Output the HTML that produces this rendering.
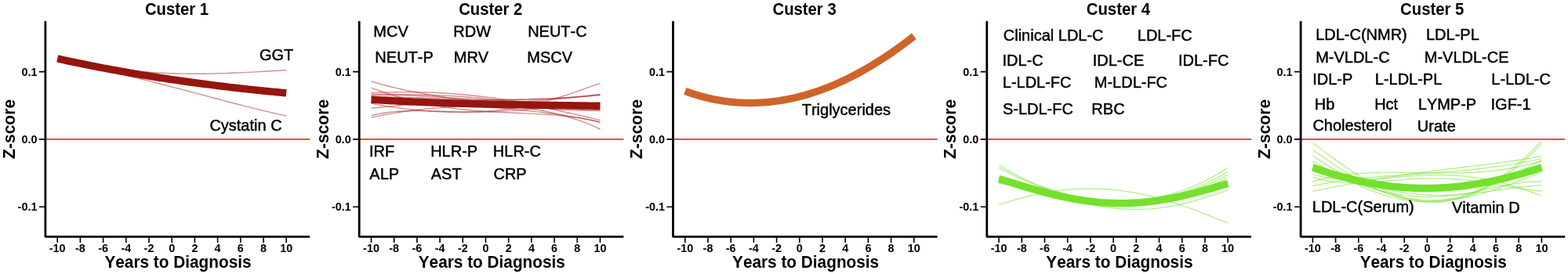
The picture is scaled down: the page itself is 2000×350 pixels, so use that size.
<!DOCTYPE html>
<html lang="en">
<head>
<meta charset="utf-8">
<title>Cluster trajectories</title>
<style>
html,body{margin:0;padding:0;background:#fff;width:2000px;height:350px;overflow:hidden;}
svg{display:block;}
text{font-family:"Liberation Sans",sans-serif;fill:#000;font-kerning:none;}
.t{font-weight:bold;font-size:20.3px;text-anchor:middle;}
.a{font-weight:bold;font-size:20.8px;text-anchor:middle;}
.k{font-weight:bold;font-size:14.4px;}
.l{font-size:20px;stroke:#000;stroke-width:0.45px;stroke-linejoin:round;}
.ax{fill:none;stroke:#000;stroke-width:2.8;stroke-linejoin:bevel;stroke-linecap:butt;}
.tk{fill:none;stroke:#000;stroke-width:1.6;}
.z{stroke:#ff2a1c;stroke-width:1.6;fill:none;}
.th{fill:none;stroke-width:1.4;}
.tc{fill:none;stroke-width:9.4;stroke-linecap:butt;stroke-linejoin:round;}
</style>
</head>
<body>
<svg width="2000" height="350" viewBox="0 0 2000 350" role="img" aria-label="Cluster trajectories">
<rect x="0" y="0" width="2000" height="350" fill="#ffffff"/>
<g transform="translate(0,0)">
<line class="z" x1="58" y1="177.9" x2="395" y2="177.9"/>
<g class="th" stroke="#a82020" stroke-opacity="0.5">
<path d="M73.2 75.5 L78.15 76.5 L83.1 77.48 L88.05 78.44 L93 79.38 L97.95 80.3 L102.89 81.19 L107.84 82.05 L112.79 82.89 L117.74 83.71 L122.69 84.49 L127.64 85.25 L132.59 85.98 L137.54 86.68 L142.49 87.35 L147.44 87.99 L152.39 88.6 L157.34 89.18 L162.28 89.72 L167.23 90.24 L172.18 90.72 L177.13 91.17 L182.08 91.59 L187.03 91.98 L191.98 92.34 L196.93 92.66 L201.88 92.96 L206.83 93.22 L211.78 93.45 L216.73 93.65 L221.67 93.82 L226.62 93.97 L231.57 94.08 L236.52 94.16 L241.47 94.22 L246.42 94.25 L251.37 94.25 L256.32 94.23 L261.27 94.18 L266.22 94.11 L271.17 94.02 L276.12 93.91 L281.06 93.77 L286.01 93.62 L290.96 93.45 L295.91 93.26 L300.86 93.05 L305.81 92.83 L310.76 92.6 L315.71 92.36 L320.66 92.11 L325.61 91.85 L330.56 91.58 L335.51 91.31 L340.45 91.04 L345.4 90.77 L350.35 90.49 L355.3 90.22 L360.25 89.96 L365.2 89.7"/>
<path d="M73.2 77 L78.15 78.01 L83.1 79.02 L88.05 80.04 L93 81.07 L97.95 82.11 L102.89 83.17 L107.84 84.23 L112.79 85.3 L117.74 86.38 L122.69 87.47 L127.64 88.57 L132.59 89.69 L137.54 90.82 L142.49 91.95 L147.44 93.1 L152.39 94.26 L157.34 95.43 L162.28 96.62 L167.23 97.81 L172.18 99.01 L177.13 100.23 L182.08 101.45 L187.03 102.69 L191.98 103.93 L196.93 105.19 L201.88 106.45 L206.83 107.72 L211.78 109 L216.73 110.28 L221.67 111.58 L226.62 112.88 L231.57 114.18 L236.52 115.49 L241.47 116.8 L246.42 118.12 L251.37 119.44 L256.32 120.76 L261.27 122.08 L266.22 123.4 L271.17 124.72 L276.12 126.04 L281.06 127.35 L286.01 128.66 L290.96 129.97 L295.91 131.26 L300.86 132.55 L305.81 133.84 L310.76 135.11 L315.71 136.36 L320.66 137.61 L325.61 138.84 L330.56 140.06 L335.51 141.26 L340.45 142.44 L345.4 143.6 L350.35 144.73 L355.3 145.85 L360.25 146.94 L365.2 148"/>
</g>
<path class="tc" stroke="#95150f" d="M73.2 74.9 L76.9 75.71 L80.59 76.51 L84.29 77.31 L87.98 78.1 L91.68 78.88 L95.38 79.66 L99.07 80.42 L102.77 81.18 L106.47 81.93 L110.16 82.68 L113.86 83.42 L117.55 84.15 L121.25 84.87 L124.95 85.59 L128.64 86.3 L132.34 87 L136.04 87.7 L139.73 88.39 L143.43 89.07 L147.12 89.74 L150.82 90.41 L154.52 91.07 L158.21 91.73 L161.91 92.38 L165.61 93.02 L169.3 93.66 L173 94.28 L176.69 94.91 L180.39 95.52 L184.09 96.13 L187.78 96.73 L191.48 97.33 L195.17 97.92 L198.87 98.5 L202.57 99.08 L206.26 99.65 L209.96 100.22 L213.66 100.77 L217.35 101.33 L221.05 101.87 L224.74 102.41 L228.44 102.95 L232.14 103.48 L235.83 104 L239.53 104.51 L243.23 105.02 L246.92 105.53 L250.62 106.03 L254.31 106.52 L258.01 107.01 L261.71 107.49 L265.4 107.96 L269.1 108.44 L272.79 108.9 L276.49 109.36 L280.19 109.81 L283.88 110.26 L287.58 110.7 L291.28 111.14 L294.97 111.57 L298.67 112 L302.36 112.42 L306.06 112.84 L309.76 113.25 L313.45 113.65 L317.15 114.05 L320.85 114.45 L324.54 114.84 L328.24 115.22 L331.93 115.6 L335.63 115.98 L339.33 116.35 L343.02 116.71 L346.72 117.07 L350.42 117.43 L354.11 117.78 L357.81 118.12 L361.5 118.46 L365.2 118.8"/>
<path class="ax" d="M57.9 27 L57.9 302.4 L395 302.4"/>
<path class="tk" d="M73.2 303.5 L73.2 310  M102.4 303.5 L102.4 310  M131.6 303.5 L131.6 310  M160.8 303.5 L160.8 310  M190 303.5 L190 310  M219.2 303.5 L219.2 310  M248.4 303.5 L248.4 310  M277.6 303.5 L277.6 310  M306.8 303.5 L306.8 310  M336 303.5 L336 310  M365.2 303.5 L365.2 310  M49.8 264.2 L57 264.2 M49.8 177.9 L57 177.9 M49.8 91.6 L57 91.6"/>
<text class="k" text-anchor="middle" transform="translate(73.2,321.7) scale(1,1.04)">-10</text>
<text class="k" text-anchor="middle" transform="translate(102.4,321.7) scale(1,1.04)">-8</text>
<text class="k" text-anchor="middle" transform="translate(131.6,321.7) scale(1,1.04)">-6</text>
<text class="k" text-anchor="middle" transform="translate(160.8,321.7) scale(1,1.04)">-4</text>
<text class="k" text-anchor="middle" transform="translate(190,321.7) scale(1,1.04)">-2</text>
<text class="k" text-anchor="middle" transform="translate(219.2,321.7) scale(1,1.04)">0</text>
<text class="k" text-anchor="middle" transform="translate(248.4,321.7) scale(1,1.04)">2</text>
<text class="k" text-anchor="middle" transform="translate(277.6,321.7) scale(1,1.04)">4</text>
<text class="k" text-anchor="middle" transform="translate(306.8,321.7) scale(1,1.04)">6</text>
<text class="k" text-anchor="middle" transform="translate(336,321.7) scale(1,1.04)">8</text>
<text class="k" text-anchor="middle" transform="translate(365.2,321.7) scale(1,1.04)">10</text>
<text class="k" text-anchor="end" transform="translate(47.4,269.1) scale(1,1.04)">-0.1</text>
<text class="k" text-anchor="end" transform="translate(47.4,182.8) scale(1,1.04)">0.0</text>
<text class="k" text-anchor="end" transform="translate(47.4,96.5) scale(1,1.04)">0.1</text>
<text class="t" transform="translate(225.5,19) scale(1,1.08)">Custer 1</text>
<text class="a" transform="translate(227,341.9) scale(1,1.05)">Years to Diagnosis</text>
<text class="a" style="font-size:21.1px" transform="translate(18.5,164.9) rotate(-90) scale(1,1.05)">Z-score</text>
<text class="l" transform="translate(330.99,76.7) scale(1,1.01)">GGT</text>
<text class="l" transform="translate(267.38,166.7) scale(1,1.01)">Cystatin C</text>
</g>
<g transform="translate(400.3,0)">
<line class="z" x1="58" y1="177.9" x2="395" y2="177.9"/>
<g class="th" stroke="#a82020" stroke-opacity="0.5">
<path d="M73.2 104 L78.15 105.43 L83.1 106.82 L88.05 108.16 L93 109.47 L97.95 110.73 L102.89 111.94 L107.84 113.12 L112.79 114.25 L117.74 115.35 L122.69 116.4 L127.64 117.42 L132.59 118.4 L137.54 119.34 L142.49 120.24 L147.44 121.11 L152.39 121.95 L157.34 122.76 L162.28 123.54 L167.23 124.29 L172.18 125.01 L177.13 125.71 L182.08 126.38 L187.03 127.04 L191.98 127.68 L196.93 128.3 L201.88 128.92 L206.83 129.52 L211.78 130.11 L216.73 130.7 L221.67 131.29 L226.62 131.88 L231.57 132.47 L236.52 133.08 L241.47 133.69 L246.42 134.32 L251.37 134.97 L256.32 135.64 L261.27 136.33 L266.22 137.06 L271.17 137.82 L276.12 138.62 L281.06 139.46 L286.01 140.35 L290.96 141.29 L295.91 142.28 L300.86 143.34 L305.81 144.47 L310.76 145.66 L315.71 146.93 L320.66 148.28 L325.61 149.72 L330.56 151.25 L335.51 152.87 L340.45 154.6 L345.4 156.44 L350.35 158.4 L355.3 160.47 L360.25 162.67 L365.2 165"/>
<path d="M73.2 112.09 L78.15 113.94 L83.1 115.74 L88.05 117.47 L93 119.14 L97.95 120.75 L102.89 122.3 L107.84 123.78 L112.79 125.2 L117.74 126.55 L122.69 127.85 L127.64 129.08 L132.59 130.26 L137.54 131.37 L142.49 132.42 L147.44 133.42 L152.39 134.36 L157.34 135.25 L162.28 136.08 L167.23 136.85 L172.18 137.58 L177.13 138.26 L182.08 138.89 L187.03 139.48 L191.98 140.02 L196.93 140.52 L201.88 140.98 L206.83 141.4 L211.78 141.79 L216.73 142.15 L221.67 142.48 L226.62 142.79 L231.57 143.07 L236.52 143.33 L241.47 143.58 L246.42 143.81 L251.37 144.03 L256.32 144.25 L261.27 144.46 L266.22 144.67 L271.17 144.89 L276.12 145.12 L281.06 145.36 L286.01 145.62 L290.96 145.9 L295.91 146.21 L300.86 146.55 L305.81 146.92 L310.76 147.33 L315.71 147.79 L320.66 148.3 L325.61 148.86 L330.56 149.48 L335.51 150.17 L340.45 150.94 L345.4 151.77 L350.35 152.7 L355.3 153.71 L360.25 154.81 L365.2 156.01"/>
<path d="M73.2 118.61 L78.15 118.42 L83.1 118.25 L88.05 118.09 L93 117.95 L97.95 117.83 L102.89 117.73 L107.84 117.66 L112.79 117.61 L117.74 117.59 L122.69 117.6 L127.64 117.64 L132.59 117.7 L137.54 117.8 L142.49 117.93 L147.44 118.09 L152.39 118.28 L157.34 118.5 L162.28 118.76 L167.23 119.05 L172.18 119.37 L177.13 119.72 L182.08 120.11 L187.03 120.52 L191.98 120.97 L196.93 121.44 L201.88 121.95 L206.83 122.48 L211.78 123.04 L216.73 123.62 L221.67 124.23 L226.62 124.86 L231.57 125.51 L236.52 126.17 L241.47 126.86 L246.42 127.56 L251.37 128.27 L256.32 128.99 L261.27 129.72 L266.22 130.45 L271.17 131.19 L276.12 131.92 L281.06 132.65 L286.01 133.38 L290.96 134.09 L295.91 134.79 L300.86 135.48 L305.81 136.14 L310.76 136.78 L315.71 137.39 L320.66 137.97 L325.61 138.51 L330.56 139.01 L335.51 139.46 L340.45 139.87 L345.4 140.22 L350.35 140.51 L355.3 140.74 L360.25 140.9 L365.2 140.99"/>
<path d="M73.2 120.3 L78.15 120.35 L83.1 120.4 L88.05 120.44 L93 120.48 L97.95 120.52 L102.89 120.57 L107.84 120.61 L112.79 120.66 L117.74 120.72 L122.69 120.79 L127.64 120.87 L132.59 120.97 L137.54 121.08 L142.49 121.2 L147.44 121.34 L152.39 121.5 L157.34 121.68 L162.28 121.89 L167.23 122.11 L172.18 122.36 L177.13 122.63 L182.08 122.93 L187.03 123.26 L191.98 123.61 L196.93 123.99 L201.88 124.4 L206.83 124.84 L211.78 125.31 L216.73 125.81 L221.67 126.33 L226.62 126.89 L231.57 127.48 L236.52 128.1 L241.47 128.75 L246.42 129.44 L251.37 130.15 L256.32 130.89 L261.27 131.67 L266.22 132.47 L271.17 133.3 L276.12 134.16 L281.06 135.05 L286.01 135.97 L290.96 136.91 L295.91 137.88 L300.86 138.88 L305.81 139.9 L310.76 140.94 L315.71 142.01 L320.66 143.1 L325.61 144.21 L330.56 145.33 L335.51 146.47 L340.45 147.63 L345.4 148.8 L350.35 149.99 L355.3 151.19 L360.25 152.39 L365.2 153.6"/>
<path d="M73.2 122 L78.15 121.74 L83.1 121.55 L88.05 121.42 L93 121.35 L97.95 121.34 L102.89 121.38 L107.84 121.47 L112.79 121.6 L117.74 121.76 L122.69 121.96 L127.64 122.19 L132.59 122.43 L137.54 122.7 L142.49 122.99 L147.44 123.29 L152.39 123.6 L157.34 123.91 L162.28 124.23 L167.23 124.55 L172.18 124.87 L177.13 125.18 L182.08 125.48 L187.03 125.78 L191.98 126.06 L196.93 126.32 L201.88 126.57 L206.83 126.81 L211.78 127.02 L216.73 127.21 L221.67 127.37 L226.62 127.52 L231.57 127.64 L236.52 127.73 L241.47 127.79 L246.42 127.83 L251.37 127.84 L256.32 127.82 L261.27 127.78 L266.22 127.7 L271.17 127.6 L276.12 127.47 L281.06 127.31 L286.01 127.12 L290.96 126.91 L295.91 126.67 L300.86 126.41 L305.81 126.12 L310.76 125.82 L315.71 125.49 L320.66 125.14 L325.61 124.78 L330.56 124.4 L335.51 124 L340.45 123.6 L345.4 123.19 L350.35 122.77 L355.3 122.34 L360.25 121.92 L365.2 121.5"/>
<path d="M73.2 138.31 L78.15 137.81 L83.1 137.32 L88.05 136.83 L93 136.34 L97.95 135.86 L102.89 135.39 L107.84 134.93 L112.79 134.47 L117.74 134.03 L122.69 133.6 L127.64 133.18 L132.59 132.77 L137.54 132.38 L142.49 132 L147.44 131.63 L152.39 131.28 L157.34 130.94 L162.28 130.62 L167.23 130.32 L172.18 130.02 L177.13 129.75 L182.08 129.48 L187.03 129.24 L191.98 129 L196.93 128.78 L201.88 128.58 L206.83 128.38 L211.78 128.2 L216.73 128.03 L221.67 127.87 L226.62 127.72 L231.57 127.57 L236.52 127.44 L241.47 127.31 L246.42 127.18 L251.37 127.06 L256.32 126.94 L261.27 126.82 L266.22 126.7 L271.17 126.58 L276.12 126.46 L281.06 126.32 L286.01 126.18 L290.96 126.03 L295.91 125.87 L300.86 125.7 L305.81 125.5 L310.76 125.29 L315.71 125.06 L320.66 124.8 L325.61 124.52 L330.56 124.21 L335.51 123.87 L340.45 123.49 L345.4 123.08 L350.35 122.63 L355.3 122.13 L360.25 121.59 L365.2 120.99"/>
<path d="M73.2 147.72 L78.15 146.48 L83.1 145.42 L88.05 144.51 L93 143.75 L97.95 143.12 L102.89 142.62 L107.84 142.23 L112.79 141.93 L117.74 141.72 L122.69 141.59 L127.64 141.53 L132.59 141.52 L137.54 141.56 L142.49 141.63 L147.44 141.74 L152.39 141.86 L157.34 142 L162.28 142.14 L167.23 142.28 L172.18 142.4 L177.13 142.52 L182.08 142.6 L187.03 142.66 L191.98 142.68 L196.93 142.67 L201.88 142.61 L206.83 142.5 L211.78 142.33 L216.73 142.11 L221.67 141.83 L226.62 141.49 L231.57 141.09 L236.52 140.61 L241.47 140.07 L246.42 139.45 L251.37 138.77 L256.32 138.01 L261.27 137.18 L266.22 136.27 L271.17 135.3 L276.12 134.25 L281.06 133.13 L286.01 131.94 L290.96 130.69 L295.91 129.37 L300.86 128 L305.81 126.56 L310.76 125.07 L315.71 123.52 L320.66 121.93 L325.61 120.3 L330.56 118.63 L335.51 116.93 L340.45 115.2 L345.4 113.45 L350.35 111.68 L355.3 109.91 L360.25 108.14 L365.2 106.38"/>
<path d="M73.2 150.33 L78.15 149.16 L83.1 148.07 L88.05 147.04 L93 146.08 L97.95 145.18 L102.89 144.34 L107.84 143.55 L112.79 142.81 L117.74 142.12 L122.69 141.47 L127.64 140.86 L132.59 140.29 L137.54 139.75 L142.49 139.24 L147.44 138.76 L152.39 138.31 L157.34 137.88 L162.28 137.47 L167.23 137.08 L172.18 136.7 L177.13 136.34 L182.08 135.99 L187.03 135.64 L191.98 135.31 L196.93 134.98 L201.88 134.65 L206.83 134.33 L211.78 134.01 L216.73 133.68 L221.67 133.36 L226.62 133.03 L231.57 132.7 L236.52 132.36 L241.47 132.01 L246.42 131.66 L251.37 131.3 L256.32 130.93 L261.27 130.55 L266.22 130.16 L271.17 129.76 L276.12 129.35 L281.06 128.93 L286.01 128.5 L290.96 128.06 L295.91 127.61 L300.86 127.15 L305.81 126.68 L310.76 126.19 L315.71 125.7 L320.66 125.21 L325.61 124.7 L330.56 124.19 L335.51 123.67 L340.45 123.14 L345.4 122.62 L350.35 122.09 L355.3 121.55 L360.25 121.02 L365.2 120.49"/>
<path d="M73.2 125 L78.15 125.56 L83.1 126.11 L88.05 126.63 L93 127.14 L97.95 127.63 L102.89 128.1 L107.84 128.57 L112.79 129.01 L117.74 129.44 L122.69 129.86 L127.64 130.27 L132.59 130.67 L137.54 131.06 L142.49 131.43 L147.44 131.8 L152.39 132.17 L157.34 132.52 L162.28 132.87 L167.23 133.22 L172.18 133.56 L177.13 133.9 L182.08 134.24 L187.03 134.58 L191.98 134.92 L196.93 135.26 L201.88 135.6 L206.83 135.95 L211.78 136.3 L216.73 136.66 L221.67 137.02 L226.62 137.4 L231.57 137.78 L236.52 138.17 L241.47 138.57 L246.42 138.99 L251.37 139.42 L256.32 139.86 L261.27 140.32 L266.22 140.8 L271.17 141.3 L276.12 141.81 L281.06 142.35 L286.01 142.91 L290.96 143.49 L295.91 144.1 L300.86 144.74 L305.81 145.4 L310.76 146.09 L315.71 146.81 L320.66 147.57 L325.61 148.35 L330.56 149.17 L335.51 150.03 L340.45 150.92 L345.4 151.86 L350.35 152.83 L355.3 153.84 L360.25 154.9 L365.2 156"/>
<path d="M73.2 129 L78.15 129.19 L83.1 129.35 L88.05 129.49 L93 129.61 L97.95 129.72 L102.89 129.81 L107.84 129.9 L112.79 129.98 L117.74 130.05 L122.69 130.13 L127.64 130.2 L132.59 130.27 L137.54 130.35 L142.49 130.44 L147.44 130.53 L152.39 130.63 L157.34 130.73 L162.28 130.85 L167.23 130.98 L172.18 131.13 L177.13 131.28 L182.08 131.45 L187.03 131.64 L191.98 131.84 L196.93 132.06 L201.88 132.29 L206.83 132.53 L211.78 132.79 L216.73 133.07 L221.67 133.36 L226.62 133.66 L231.57 133.97 L236.52 134.3 L241.47 134.64 L246.42 134.99 L251.37 135.34 L256.32 135.71 L261.27 136.08 L266.22 136.45 L271.17 136.83 L276.12 137.2 L281.06 137.58 L286.01 137.95 L290.96 138.31 L295.91 138.67 L300.86 139.01 L305.81 139.34 L310.76 139.65 L315.71 139.94 L320.66 140.21 L325.61 140.45 L330.56 140.67 L335.51 140.84 L340.45 140.99 L345.4 141.09 L350.35 141.14 L355.3 141.15 L360.25 141.1 L365.2 141"/>
<path d="M73.2 132 L78.15 132.97 L83.1 133.9 L88.05 134.79 L93 135.63 L97.95 136.42 L102.89 137.18 L107.84 137.88 L112.79 138.55 L117.74 139.16 L122.69 139.74 L127.64 140.27 L132.59 140.76 L137.54 141.21 L142.49 141.61 L147.44 141.97 L152.39 142.29 L157.34 142.57 L162.28 142.81 L167.23 143.01 L172.18 143.18 L177.13 143.3 L182.08 143.39 L187.03 143.44 L191.98 143.46 L196.93 143.44 L201.88 143.39 L206.83 143.31 L211.78 143.2 L216.73 143.06 L221.67 142.89 L226.62 142.69 L231.57 142.47 L236.52 142.22 L241.47 141.95 L246.42 141.66 L251.37 141.35 L256.32 141.02 L261.27 140.67 L266.22 140.31 L271.17 139.94 L276.12 139.55 L281.06 139.16 L286.01 138.76 L290.96 138.35 L295.91 137.94 L300.86 137.52 L305.81 137.11 L310.76 136.7 L315.71 136.29 L320.66 135.89 L325.61 135.5 L330.56 135.13 L335.51 134.76 L340.45 134.41 L345.4 134.08 L350.35 133.77 L355.3 133.49 L360.25 133.23 L365.2 133"/>
<path d="M73.2 124 L78.15 123.98 L83.1 123.97 L88.05 123.98 L93 124.01 L97.95 124.06 L102.89 124.12 L107.84 124.19 L112.79 124.28 L117.74 124.39 L122.69 124.51 L127.64 124.64 L132.59 124.79 L137.54 124.95 L142.49 125.12 L147.44 125.3 L152.39 125.49 L157.34 125.69 L162.28 125.91 L167.23 126.13 L172.18 126.36 L177.13 126.6 L182.08 126.85 L187.03 127.11 L191.98 127.37 L196.93 127.64 L201.88 127.92 L206.83 128.2 L211.78 128.49 L216.73 128.78 L221.67 129.08 L226.62 129.38 L231.57 129.68 L236.52 129.98 L241.47 130.29 L246.42 130.6 L251.37 130.91 L256.32 131.22 L261.27 131.53 L266.22 131.83 L271.17 132.14 L276.12 132.45 L281.06 132.75 L286.01 133.05 L290.96 133.35 L295.91 133.64 L300.86 133.93 L305.81 134.21 L310.76 134.49 L315.71 134.76 L320.66 135.02 L325.61 135.28 L330.56 135.53 L335.51 135.77 L340.45 136 L345.4 136.22 L350.35 136.43 L355.3 136.63 L360.25 136.82 L365.2 137"/>
</g>
<path class="tc" stroke="#95150f" d="M73.2 127.2 L76.9 127.43 L80.59 127.65 L84.29 127.87 L87.98 128.08 L91.68 128.29 L95.38 128.49 L99.07 128.69 L102.77 128.88 L106.47 129.07 L110.16 129.25 L113.86 129.43 L117.55 129.61 L121.25 129.78 L124.95 129.95 L128.64 130.11 L132.34 130.27 L136.04 130.42 L139.73 130.57 L143.43 130.72 L147.12 130.86 L150.82 131 L154.52 131.14 L158.21 131.27 L161.91 131.4 L165.61 131.52 L169.3 131.64 L173 131.76 L176.69 131.88 L180.39 131.99 L184.09 132.1 L187.78 132.2 L191.48 132.31 L195.17 132.41 L198.87 132.51 L202.57 132.6 L206.26 132.69 L209.96 132.78 L213.66 132.87 L217.35 132.96 L221.05 133.04 L224.74 133.12 L228.44 133.2 L232.14 133.27 L235.83 133.35 L239.53 133.42 L243.23 133.49 L246.92 133.56 L250.62 133.63 L254.31 133.7 L258.01 133.76 L261.71 133.82 L265.4 133.88 L269.1 133.94 L272.79 134 L276.49 134.06 L280.19 134.12 L283.88 134.17 L287.58 134.23 L291.28 134.28 L294.97 134.34 L298.67 134.39 L302.36 134.44 L306.06 134.49 L309.76 134.54 L313.45 134.59 L317.15 134.64 L320.85 134.69 L324.54 134.74 L328.24 134.79 L331.93 134.84 L335.63 134.89 L339.33 134.94 L343.02 134.99 L346.72 135.04 L350.42 135.09 L354.11 135.14 L357.81 135.2 L361.5 135.25 L365.2 135.3"/>
<path class="ax" d="M57.9 27 L57.9 302.4 L395 302.4"/>
<path class="tk" d="M73.2 303.5 L73.2 310  M102.4 303.5 L102.4 310  M131.6 303.5 L131.6 310  M160.8 303.5 L160.8 310  M190 303.5 L190 310  M219.2 303.5 L219.2 310  M248.4 303.5 L248.4 310  M277.6 303.5 L277.6 310  M306.8 303.5 L306.8 310  M336 303.5 L336 310  M365.2 303.5 L365.2 310  M49.8 264.2 L57 264.2 M49.8 177.9 L57 177.9 M49.8 91.6 L57 91.6"/>
<text class="k" text-anchor="middle" transform="translate(73.2,321.7) scale(1,1.04)">-10</text>
<text class="k" text-anchor="middle" transform="translate(102.4,321.7) scale(1,1.04)">-8</text>
<text class="k" text-anchor="middle" transform="translate(131.6,321.7) scale(1,1.04)">-6</text>
<text class="k" text-anchor="middle" transform="translate(160.8,321.7) scale(1,1.04)">-4</text>
<text class="k" text-anchor="middle" transform="translate(190,321.7) scale(1,1.04)">-2</text>
<text class="k" text-anchor="middle" transform="translate(219.2,321.7) scale(1,1.04)">0</text>
<text class="k" text-anchor="middle" transform="translate(248.4,321.7) scale(1,1.04)">2</text>
<text class="k" text-anchor="middle" transform="translate(277.6,321.7) scale(1,1.04)">4</text>
<text class="k" text-anchor="middle" transform="translate(306.8,321.7) scale(1,1.04)">6</text>
<text class="k" text-anchor="middle" transform="translate(336,321.7) scale(1,1.04)">8</text>
<text class="k" text-anchor="middle" transform="translate(365.2,321.7) scale(1,1.04)">10</text>
<text class="k" text-anchor="end" transform="translate(47.4,269.1) scale(1,1.04)">-0.1</text>
<text class="k" text-anchor="end" transform="translate(47.4,182.8) scale(1,1.04)">0.0</text>
<text class="k" text-anchor="end" transform="translate(47.4,96.5) scale(1,1.04)">0.1</text>
<text class="t" transform="translate(225.5,19) scale(1,1.08)">Custer 2</text>
<text class="a" transform="translate(227,341.9) scale(1,1.05)">Years to Diagnosis</text>
<text class="a" style="font-size:21.1px" transform="translate(18.5,164.9) rotate(-90) scale(1,1.05)">Z-score</text>
<text class="l" transform="translate(76.06,46.7) scale(1,1.01)">MCV</text>
<text class="l" transform="translate(178.06,46.7) scale(1,1.01)">RDW</text>
<text class="l" transform="translate(272.86,46.7) scale(1,1.01)">NEUT-C</text>
<text class="l" transform="translate(78.06,79.7) scale(1,1.01)">NEUT-P</text>
<text class="l" transform="translate(178.46,79.7) scale(1,1.01)">MRV</text>
<text class="l" transform="translate(272.06,79.7) scale(1,1.01)">MSCV</text>
<text class="l" transform="translate(70.65,200.3) scale(1,1.01)">IRF</text>
<text class="l" transform="translate(148.86,200.3) scale(1,1.01)">HLR-P</text>
<text class="l" transform="translate(228.56,200.3) scale(1,1.01)">HLR-C</text>
<text class="l" transform="translate(71.06,228.7) scale(1,1.01)">ALP</text>
<text class="l" transform="translate(149.46,228.7) scale(1,1.01)">AST</text>
<text class="l" transform="translate(229.18,228.7) scale(1,1.01)">CRP</text>
</g>
<g transform="translate(800.6,0)">
<line class="z" x1="58" y1="177.9" x2="395" y2="177.9"/>
<path class="tc" stroke="#cf6429" d="M73.2 116.4 L76.9 117.72 L80.59 118.98 L84.29 120.18 L87.98 121.31 L91.68 122.39 L95.38 123.4 L99.07 124.35 L102.77 125.24 L106.47 126.08 L110.16 126.85 L113.86 127.56 L117.55 128.21 L121.25 128.8 L124.95 129.33 L128.64 129.8 L132.34 130.21 L136.04 130.57 L139.73 130.86 L143.43 131.1 L147.12 131.28 L150.82 131.4 L154.52 131.46 L158.21 131.46 L161.91 131.41 L165.61 131.3 L169.3 131.13 L173 130.91 L176.69 130.63 L180.39 130.29 L184.09 129.9 L187.78 129.45 L191.48 128.94 L195.17 128.38 L198.87 127.76 L202.57 127.09 L206.26 126.37 L209.96 125.59 L213.66 124.75 L217.35 123.86 L221.05 122.92 L224.74 121.92 L228.44 120.87 L232.14 119.76 L235.83 118.61 L239.53 117.39 L243.23 116.13 L246.92 114.81 L250.62 113.45 L254.31 112.02 L258.01 110.55 L261.71 109.03 L265.4 107.45 L269.1 105.82 L272.79 104.14 L276.49 102.41 L280.19 100.63 L283.88 98.8 L287.58 96.92 L291.28 94.99 L294.97 93.01 L298.67 90.98 L302.36 88.9 L306.06 86.77 L309.76 84.59 L313.45 82.36 L317.15 80.09 L320.85 77.76 L324.54 75.39 L328.24 72.97 L331.93 70.5 L335.63 67.99 L339.33 65.42 L343.02 62.81 L346.72 60.16 L350.42 57.45 L354.11 54.7 L357.81 51.91 L361.5 49.06 L365.2 46.18"/>
<path class="ax" d="M57.9 27 L57.9 302.4 L395 302.4"/>
<path class="tk" d="M73.2 303.5 L73.2 310  M102.4 303.5 L102.4 310  M131.6 303.5 L131.6 310  M160.8 303.5 L160.8 310  M190 303.5 L190 310  M219.2 303.5 L219.2 310  M248.4 303.5 L248.4 310  M277.6 303.5 L277.6 310  M306.8 303.5 L306.8 310  M336 303.5 L336 310  M365.2 303.5 L365.2 310  M49.8 264.2 L57 264.2 M49.8 177.9 L57 177.9 M49.8 91.6 L57 91.6"/>
<text class="k" text-anchor="middle" transform="translate(73.2,321.7) scale(1,1.04)">-10</text>
<text class="k" text-anchor="middle" transform="translate(102.4,321.7) scale(1,1.04)">-8</text>
<text class="k" text-anchor="middle" transform="translate(131.6,321.7) scale(1,1.04)">-6</text>
<text class="k" text-anchor="middle" transform="translate(160.8,321.7) scale(1,1.04)">-4</text>
<text class="k" text-anchor="middle" transform="translate(190,321.7) scale(1,1.04)">-2</text>
<text class="k" text-anchor="middle" transform="translate(219.2,321.7) scale(1,1.04)">0</text>
<text class="k" text-anchor="middle" transform="translate(248.4,321.7) scale(1,1.04)">2</text>
<text class="k" text-anchor="middle" transform="translate(277.6,321.7) scale(1,1.04)">4</text>
<text class="k" text-anchor="middle" transform="translate(306.8,321.7) scale(1,1.04)">6</text>
<text class="k" text-anchor="middle" transform="translate(336,321.7) scale(1,1.04)">8</text>
<text class="k" text-anchor="middle" transform="translate(365.2,321.7) scale(1,1.04)">10</text>
<text class="k" text-anchor="end" transform="translate(47.4,269.1) scale(1,1.04)">-0.1</text>
<text class="k" text-anchor="end" transform="translate(47.4,182.8) scale(1,1.04)">0.0</text>
<text class="k" text-anchor="end" transform="translate(47.4,96.5) scale(1,1.04)">0.1</text>
<text class="t" transform="translate(225.5,19) scale(1,1.08)">Custer 3</text>
<text class="a" transform="translate(227,341.9) scale(1,1.05)">Years to Diagnosis</text>
<text class="a" style="font-size:21.1px" transform="translate(18.5,164.9) rotate(-90) scale(1,1.05)">Z-score</text>
<text class="l" transform="translate(222.15,147.4) scale(1,1.01)">Triglycerides</text>
</g>
<g transform="translate(1200.9,0)">
<line class="z" x1="58" y1="177.9" x2="395" y2="177.9"/>
<g class="th" stroke="#7de238" stroke-opacity="0.55">
<path d="M73.2 210.9 L78.15 213.94 L83.1 216.86 L88.05 219.66 L93 222.34 L97.95 224.91 L102.89 227.36 L107.84 229.7 L112.79 231.94 L117.74 234.07 L122.69 236.09 L127.64 238.02 L132.59 239.84 L137.54 241.56 L142.49 243.19 L147.44 244.71 L152.39 246.15 L157.34 247.49 L162.28 248.73 L167.23 249.88 L172.18 250.94 L177.13 251.91 L182.08 252.79 L187.03 253.58 L191.98 254.28 L196.93 254.88 L201.88 255.4 L206.83 255.82 L211.78 256.16 L216.73 256.4 L221.67 256.55 L226.62 256.61 L231.57 256.58 L236.52 256.45 L241.47 256.22 L246.42 255.9 L251.37 255.48 L256.32 254.96 L261.27 254.34 L266.22 253.62 L271.17 252.79 L276.12 251.86 L281.06 250.82 L286.01 249.66 L290.96 248.4 L295.91 247.02 L300.86 245.52 L305.81 243.91 L310.76 242.17 L315.71 240.3 L320.66 238.3 L325.61 236.18 L330.56 233.91 L335.51 231.51 L340.45 228.97 L345.4 226.28 L350.35 223.44 L355.3 220.45 L360.25 217.3 L365.2 213.99"/>
<path d="M73.2 214.3 L78.15 216.98 L83.1 219.57 L88.05 222.07 L93 224.49 L97.95 226.82 L102.89 229.07 L107.84 231.23 L112.79 233.31 L117.74 235.3 L122.69 237.21 L127.64 239.03 L132.59 240.77 L137.54 242.43 L142.49 244 L147.44 245.49 L152.39 246.89 L157.34 248.21 L162.28 249.44 L167.23 250.59 L172.18 251.66 L177.13 252.64 L182.08 253.54 L187.03 254.35 L191.98 255.07 L196.93 255.71 L201.88 256.26 L206.83 256.72 L211.78 257.09 L216.73 257.38 L221.67 257.57 L226.62 257.68 L231.57 257.69 L236.52 257.61 L241.47 257.44 L246.42 257.18 L251.37 256.82 L256.32 256.36 L261.27 255.81 L266.22 255.16 L271.17 254.41 L276.12 253.56 L281.06 252.61 L286.01 251.56 L290.96 250.4 L295.91 249.14 L300.86 247.77 L305.81 246.29 L310.76 244.7 L315.71 243 L320.66 241.19 L325.61 239.26 L330.56 237.21 L335.51 235.05 L340.45 232.77 L345.4 230.37 L350.35 227.84 L355.3 225.19 L360.25 222.4 L365.2 219.49"/>
<path d="M73.2 226 L78.15 227.75 L83.1 229.47 L88.05 231.15 L93 232.8 L97.95 234.42 L102.89 236 L107.84 237.53 L112.79 239.03 L117.74 240.48 L122.69 241.89 L127.64 243.25 L132.59 244.57 L137.54 245.84 L142.49 247.05 L147.44 248.21 L152.39 249.32 L157.34 250.38 L162.28 251.37 L167.23 252.31 L172.18 253.19 L177.13 254 L182.08 254.75 L187.03 255.44 L191.98 256.05 L196.93 256.6 L201.88 257.08 L206.83 257.49 L211.78 257.82 L216.73 258.08 L221.67 258.26 L226.62 258.37 L231.57 258.39 L236.52 258.33 L241.47 258.19 L246.42 257.97 L251.37 257.66 L256.32 257.26 L261.27 256.77 L266.22 256.19 L271.17 255.51 L276.12 254.75 L281.06 253.88 L286.01 252.92 L290.96 251.86 L295.91 250.7 L300.86 249.44 L305.81 248.07 L310.76 246.6 L315.71 245.02 L320.66 243.33 L325.61 241.54 L330.56 239.63 L335.51 237.6 L340.45 235.47 L345.4 233.21 L350.35 230.84 L355.3 228.35 L360.25 225.73 L365.2 223"/>
<path d="M73.2 229 L78.15 230.75 L83.1 232.45 L88.05 234.11 L93 235.72 L97.95 237.28 L102.89 238.8 L107.84 240.26 L112.79 241.68 L117.74 243.05 L122.69 244.37 L127.64 245.63 L132.59 246.85 L137.54 248.02 L142.49 249.13 L147.44 250.19 L152.39 251.2 L157.34 252.15 L162.28 253.04 L167.23 253.88 L172.18 254.67 L177.13 255.39 L182.08 256.06 L187.03 256.66 L191.98 257.21 L196.93 257.69 L201.88 258.11 L206.83 258.46 L211.78 258.75 L216.73 258.97 L221.67 259.13 L226.62 259.21 L231.57 259.22 L236.52 259.16 L241.47 259.03 L246.42 258.82 L251.37 258.53 L256.32 258.16 L261.27 257.72 L266.22 257.19 L271.17 256.58 L276.12 255.88 L281.06 255.1 L286.01 254.22 L290.96 253.26 L295.91 252.2 L300.86 251.05 L305.81 249.8 L310.76 248.45 L315.71 247 L320.66 245.45 L325.61 243.8 L330.56 242.03 L335.51 240.16 L340.45 238.18 L345.4 236.08 L350.35 233.86 L355.3 231.53 L360.25 229.08 L365.2 226.5"/>
<path d="M73.2 234.3 L78.15 234.72 L83.1 235.28 L88.05 235.98 L93 236.79 L97.95 237.72 L102.89 238.73 L107.84 239.83 L112.79 241 L117.74 242.23 L122.69 243.51 L127.64 244.83 L132.59 246.18 L137.54 247.54 L142.49 248.92 L147.44 250.3 L152.39 251.66 L157.34 253.01 L162.28 254.34 L167.23 255.64 L172.18 256.9 L177.13 258.11 L182.08 259.27 L187.03 260.37 L191.98 261.41 L196.93 262.38 L201.88 263.28 L206.83 264.11 L211.78 264.85 L216.73 265.5 L221.67 266.07 L226.62 266.55 L231.57 266.93 L236.52 267.22 L241.47 267.41 L246.42 267.5 L251.37 267.49 L256.32 267.37 L261.27 267.16 L266.22 266.85 L271.17 266.44 L276.12 265.92 L281.06 265.31 L286.01 264.6 L290.96 263.8 L295.91 262.91 L300.86 261.92 L305.81 260.85 L310.76 259.7 L315.71 258.46 L320.66 257.15 L325.61 255.77 L330.56 254.33 L335.51 252.83 L340.45 251.27 L345.4 249.66 L350.35 248.01 L355.3 246.33 L360.25 244.62 L365.2 242.89"/>
<path d="M73.2 261.43 L78.15 259.85 L83.1 258.31 L88.05 256.82 L93 255.39 L97.95 254.02 L102.89 252.7 L107.84 251.44 L112.79 250.24 L117.74 249.11 L122.69 248.05 L127.64 247.05 L132.59 246.13 L137.54 245.27 L142.49 244.49 L147.44 243.79 L152.39 243.15 L157.34 242.6 L162.28 242.13 L167.23 241.73 L172.18 241.41 L177.13 241.17 L182.08 241.01 L187.03 240.94 L191.98 240.94 L196.93 241.03 L201.88 241.19 L206.83 241.44 L211.78 241.77 L216.73 242.18 L221.67 242.66 L226.62 243.23 L231.57 243.88 L236.52 244.6 L241.47 245.4 L246.42 246.28 L251.37 247.23 L256.32 248.25 L261.27 249.35 L266.22 250.51 L271.17 251.74 L276.12 253.04 L281.06 254.41 L286.01 255.83 L290.96 257.32 L295.91 258.87 L300.86 260.47 L305.81 262.12 L310.76 263.82 L315.71 265.57 L320.66 267.37 L325.61 269.21 L330.56 271.08 L335.51 272.99 L340.45 274.94 L345.4 276.91 L350.35 278.9 L355.3 280.92 L360.25 282.95 L365.2 284.99"/>
<path d="M73.2 227 L78.15 228.72 L83.1 230.41 L88.05 232.09 L93 233.74 L97.95 235.36 L102.89 236.95 L107.84 238.51 L112.79 240.03 L117.74 241.51 L122.69 242.96 L127.64 244.36 L132.59 245.71 L137.54 247.02 L142.49 248.28 L147.44 249.48 L152.39 250.64 L157.34 251.73 L162.28 252.77 L167.23 253.75 L172.18 254.67 L177.13 255.53 L182.08 256.32 L187.03 257.04 L191.98 257.7 L196.93 258.29 L201.88 258.81 L206.83 259.26 L211.78 259.63 L216.73 259.93 L221.67 260.16 L226.62 260.31 L231.57 260.39 L236.52 260.38 L241.47 260.3 L246.42 260.14 L251.37 259.9 L256.32 259.58 L261.27 259.18 L266.22 258.7 L271.17 258.14 L276.12 257.5 L281.06 256.77 L286.01 255.96 L290.96 255.07 L295.91 254.1 L300.86 253.04 L305.81 251.9 L310.76 250.69 L315.71 249.39 L320.66 248 L325.61 246.54 L330.56 245 L335.51 243.37 L340.45 241.67 L345.4 239.89 L350.35 238.03 L355.3 236.09 L360.25 234.08 L365.2 231.99"/>
<path d="M73.2 230 L78.15 231.56 L83.1 233.11 L88.05 234.63 L93 236.14 L97.95 237.62 L102.89 239.06 L107.84 240.48 L112.79 241.86 L117.74 243.21 L122.69 244.51 L127.64 245.77 L132.59 246.98 L137.54 248.15 L142.49 249.26 L147.44 250.32 L152.39 251.33 L157.34 252.28 L162.28 253.17 L167.23 254.01 L172.18 254.78 L177.13 255.49 L182.08 256.13 L187.03 256.72 L191.98 257.23 L196.93 257.68 L201.88 258.06 L206.83 258.38 L211.78 258.62 L216.73 258.8 L221.67 258.91 L226.62 258.95 L231.57 258.92 L236.52 258.82 L241.47 258.65 L246.42 258.42 L251.37 258.12 L256.32 257.75 L261.27 257.32 L266.22 256.83 L271.17 256.27 L276.12 255.64 L281.06 254.96 L286.01 254.22 L290.96 253.42 L295.91 252.56 L300.86 251.65 L305.81 250.69 L310.76 249.68 L315.71 248.62 L320.66 247.51 L325.61 246.37 L330.56 245.18 L335.51 243.95 L340.45 242.69 L345.4 241.4 L350.35 240.08 L355.3 238.74 L360.25 237.38 L365.2 235.99"/>
<path d="M73.2 227.5 L78.15 228.88 L83.1 230.29 L88.05 231.74 L93 233.21 L97.95 234.69 L102.89 236.19 L107.84 237.68 L112.79 239.17 L117.74 240.65 L122.69 242.11 L127.64 243.54 L132.59 244.95 L137.54 246.32 L142.49 247.64 L147.44 248.92 L152.39 250.15 L157.34 251.32 L162.28 252.44 L167.23 253.49 L172.18 254.47 L177.13 255.38 L182.08 256.22 L187.03 256.98 L191.98 257.66 L196.93 258.26 L201.88 258.78 L206.83 259.22 L211.78 259.57 L216.73 259.83 L221.67 260 L226.62 260.08 L231.57 260.08 L236.52 259.99 L241.47 259.8 L246.42 259.53 L251.37 259.18 L256.32 258.73 L261.27 258.21 L266.22 257.6 L271.17 256.91 L276.12 256.13 L281.06 255.29 L286.01 254.37 L290.96 253.38 L295.91 252.32 L300.86 251.2 L305.81 250.02 L310.76 248.78 L315.71 247.49 L320.66 246.16 L325.61 244.78 L330.56 243.37 L335.51 241.93 L340.45 240.47 L345.4 238.98 L350.35 237.49 L355.3 235.98 L360.25 234.48 L365.2 232.99"/>
</g>
<path class="tc" stroke="#74e12c" d="M73.2 228.5 L76.9 229.62 L80.59 230.74 L84.29 231.87 L87.98 232.99 L91.68 234.12 L95.38 235.24 L99.07 236.36 L102.77 237.47 L106.47 238.58 L110.16 239.67 L113.86 240.75 L117.55 241.81 L121.25 242.85 L124.95 243.88 L128.64 244.89 L132.34 245.87 L136.04 246.83 L139.73 247.76 L143.43 248.67 L147.12 249.55 L150.82 250.4 L154.52 251.22 L158.21 252.01 L161.91 252.76 L165.61 253.48 L169.3 254.16 L173 254.81 L176.69 255.42 L180.39 255.99 L184.09 256.53 L187.78 257.02 L191.48 257.47 L195.17 257.88 L198.87 258.25 L202.57 258.58 L206.26 258.87 L209.96 259.11 L213.66 259.31 L217.35 259.46 L221.05 259.57 L224.74 259.64 L228.44 259.67 L232.14 259.64 L235.83 259.58 L239.53 259.47 L243.23 259.32 L246.92 259.12 L250.62 258.89 L254.31 258.6 L258.01 258.28 L261.71 257.91 L265.4 257.51 L269.1 257.06 L272.79 256.57 L276.49 256.04 L280.19 255.47 L283.88 254.87 L287.58 254.23 L291.28 253.55 L294.97 252.84 L298.67 252.09 L302.36 251.31 L306.06 250.5 L309.76 249.65 L313.45 248.78 L317.15 247.88 L320.85 246.96 L324.54 246.01 L328.24 245.03 L331.93 244.04 L335.63 243.02 L339.33 241.99 L343.02 240.94 L346.72 239.87 L350.42 238.79 L354.11 237.7 L357.81 236.61 L361.5 235.5 L365.2 234.39"/>
<path class="ax" d="M57.9 27 L57.9 302.4 L395 302.4"/>
<path class="tk" d="M73.2 303.5 L73.2 310  M102.4 303.5 L102.4 310  M131.6 303.5 L131.6 310  M160.8 303.5 L160.8 310  M190 303.5 L190 310  M219.2 303.5 L219.2 310  M248.4 303.5 L248.4 310  M277.6 303.5 L277.6 310  M306.8 303.5 L306.8 310  M336 303.5 L336 310  M365.2 303.5 L365.2 310  M49.8 264.2 L57 264.2 M49.8 177.9 L57 177.9 M49.8 91.6 L57 91.6"/>
<text class="k" text-anchor="middle" transform="translate(73.2,321.7) scale(1,1.04)">-10</text>
<text class="k" text-anchor="middle" transform="translate(102.4,321.7) scale(1,1.04)">-8</text>
<text class="k" text-anchor="middle" transform="translate(131.6,321.7) scale(1,1.04)">-6</text>
<text class="k" text-anchor="middle" transform="translate(160.8,321.7) scale(1,1.04)">-4</text>
<text class="k" text-anchor="middle" transform="translate(190,321.7) scale(1,1.04)">-2</text>
<text class="k" text-anchor="middle" transform="translate(219.2,321.7) scale(1,1.04)">0</text>
<text class="k" text-anchor="middle" transform="translate(248.4,321.7) scale(1,1.04)">2</text>
<text class="k" text-anchor="middle" transform="translate(277.6,321.7) scale(1,1.04)">4</text>
<text class="k" text-anchor="middle" transform="translate(306.8,321.7) scale(1,1.04)">6</text>
<text class="k" text-anchor="middle" transform="translate(336,321.7) scale(1,1.04)">8</text>
<text class="k" text-anchor="middle" transform="translate(365.2,321.7) scale(1,1.04)">10</text>
<text class="k" text-anchor="end" transform="translate(47.4,269.1) scale(1,1.04)">-0.1</text>
<text class="k" text-anchor="end" transform="translate(47.4,182.8) scale(1,1.04)">0.0</text>
<text class="k" text-anchor="end" transform="translate(47.4,96.5) scale(1,1.04)">0.1</text>
<text class="t" transform="translate(225.5,19) scale(1,1.08)">Custer 4</text>
<text class="a" transform="translate(227,341.9) scale(1,1.05)">Years to Diagnosis</text>
<text class="a" style="font-size:21.1px" transform="translate(18.5,164.9) rotate(-90) scale(1,1.05)">Z-score</text>
<text class="l" transform="translate(78.88,52.1) scale(1,1.01)">Clinical LDL-C</text>
<text class="l" transform="translate(249.86,52.1) scale(1,1.01)">LDL-FC</text>
<text class="l" transform="translate(77.65,84) scale(1,1.01)">IDL-C</text>
<text class="l" transform="translate(192.85,84) scale(1,1.01)">IDL-CE</text>
<text class="l" transform="translate(302.05,84) scale(1,1.01)">IDL-FC</text>
<text class="l" transform="translate(77.86,112.3) scale(1,1.01)">L-LDL-FC</text>
<text class="l" transform="translate(194.86,112.3) scale(1,1.01)">M-LDL-FC</text>
<text class="l" transform="translate(77.99,146.1) scale(1,1.01)">S-LDL-FC</text>
<text class="l" transform="translate(191.46,146.1) scale(1,1.01)">RBC</text>
</g>
<g transform="translate(1601.2,0)">
<line class="z" x1="58" y1="177.9" x2="395" y2="177.9"/>
<g class="th" stroke="#7de238" stroke-opacity="0.55">
<path d="M73.2 182.76 L78.15 186.4 L83.1 190.05 L88.05 193.7 L93 197.34 L97.95 200.97 L102.89 204.56 L107.84 208.1 L112.79 211.6 L117.74 215.03 L122.69 218.38 L127.64 221.65 L132.59 224.82 L137.54 227.9 L142.49 230.86 L147.44 233.7 L152.39 236.41 L157.34 238.99 L162.28 241.43 L167.23 243.71 L172.18 245.84 L177.13 247.81 L182.08 249.62 L187.03 251.25 L191.98 252.7 L196.93 253.97 L201.88 255.05 L206.83 255.94 L211.78 256.64 L216.73 257.15 L221.67 257.45 L226.62 257.55 L231.57 257.45 L236.52 257.14 L241.47 256.63 L246.42 255.9 L251.37 254.97 L256.32 253.83 L261.27 252.48 L266.22 250.93 L271.17 249.16 L276.12 247.2 L281.06 245.02 L286.01 242.65 L290.96 240.07 L295.91 237.3 L300.86 234.34 L305.81 231.19 L310.76 227.84 L315.71 224.32 L320.66 220.62 L325.61 216.75 L330.56 212.71 L335.51 208.51 L340.45 204.15 L345.4 199.65 L350.35 195 L355.3 190.21 L360.25 185.3 L365.2 180.27"/>
<path d="M73.2 191.5 L78.15 194.97 L83.1 198.43 L88.05 201.85 L93 205.24 L97.95 208.58 L102.89 211.87 L107.84 215.09 L112.79 218.25 L117.74 221.34 L122.69 224.34 L127.64 227.25 L132.59 230.07 L137.54 232.79 L142.49 235.4 L147.44 237.89 L152.39 240.27 L157.34 242.52 L162.28 244.64 L167.23 246.63 L172.18 248.47 L177.13 250.18 L182.08 251.73 L187.03 253.13 L191.98 254.37 L196.93 255.46 L201.88 256.38 L206.83 257.13 L211.78 257.71 L216.73 258.11 L221.67 258.34 L226.62 258.39 L231.57 258.26 L236.52 257.95 L241.47 257.45 L246.42 256.77 L251.37 255.89 L256.32 254.83 L261.27 253.57 L266.22 252.13 L271.17 250.49 L276.12 248.65 L281.06 246.63 L286.01 244.41 L290.96 242 L295.91 239.4 L300.86 236.6 L305.81 233.62 L310.76 230.44 L315.71 227.08 L320.66 223.53 L325.61 219.79 L330.56 215.87 L335.51 211.77 L340.45 207.49 L345.4 203.03 L350.35 198.39 L355.3 193.59 L360.25 188.62 L365.2 183.48"/>
<path d="M73.2 244.21 L78.15 243.25 L83.1 242.29 L88.05 241.33 L93 240.37 L97.95 239.42 L102.89 238.47 L107.84 237.53 L112.79 236.59 L117.74 235.66 L122.69 234.74 L127.64 233.84 L132.59 232.94 L137.54 232.05 L142.49 231.18 L147.44 230.31 L152.39 229.47 L157.34 228.63 L162.28 227.81 L167.23 227.01 L172.18 226.22 L177.13 225.44 L182.08 224.68 L187.03 223.93 L191.98 223.2 L196.93 222.48 L201.88 221.77 L206.83 221.08 L211.78 220.4 L216.73 219.74 L221.67 219.08 L226.62 218.44 L231.57 217.8 L236.52 217.18 L241.47 216.56 L246.42 215.96 L251.37 215.35 L256.32 214.76 L261.27 214.16 L266.22 213.57 L271.17 212.98 L276.12 212.38 L281.06 211.79 L286.01 211.19 L290.96 210.59 L295.91 209.97 L300.86 209.35 L305.81 208.71 L310.76 208.06 L315.71 207.4 L320.66 206.71 L325.61 206.01 L330.56 205.28 L335.51 204.52 L340.45 203.74 L345.4 202.92 L350.35 202.08 L355.3 201.19 L360.25 200.26 L365.2 199.29"/>
<path d="M73.2 237.62 L78.15 236.5 L83.1 235.45 L88.05 234.46 L93 233.53 L97.95 232.67 L102.89 231.86 L107.84 231.1 L112.79 230.39 L117.74 229.73 L122.69 229.11 L127.64 228.53 L132.59 227.98 L137.54 227.47 L142.49 226.99 L147.44 226.53 L152.39 226.1 L157.34 225.7 L162.28 225.31 L167.23 224.94 L172.18 224.58 L177.13 224.23 L182.08 223.89 L187.03 223.56 L191.98 223.24 L196.93 222.92 L201.88 222.6 L206.83 222.27 L211.78 221.95 L216.73 221.61 L221.67 221.28 L226.62 220.93 L231.57 220.57 L236.52 220.2 L241.47 219.82 L246.42 219.42 L251.37 219.01 L256.32 218.58 L261.27 218.12 L266.22 217.65 L271.17 217.16 L276.12 216.65 L281.06 216.11 L286.01 215.55 L290.96 214.97 L295.91 214.36 L300.86 213.72 L305.81 213.06 L310.76 212.37 L315.71 211.65 L320.66 210.9 L325.61 210.12 L330.56 209.32 L335.51 208.49 L340.45 207.63 L345.4 206.74 L350.35 205.82 L355.3 204.87 L360.25 203.89 L365.2 202.89"/>
<path d="M73.2 232.02 L78.15 230.6 L83.1 229.3 L88.05 228.11 L93 227.03 L97.95 226.05 L102.89 225.17 L107.84 224.38 L112.79 223.68 L117.74 223.06 L122.69 222.52 L127.64 222.05 L132.59 221.65 L137.54 221.31 L142.49 221.03 L147.44 220.8 L152.39 220.63 L157.34 220.49 L162.28 220.41 L167.23 220.35 L172.18 220.33 L177.13 220.34 L182.08 220.37 L187.03 220.42 L191.98 220.49 L196.93 220.56 L201.88 220.65 L206.83 220.74 L211.78 220.83 L216.73 220.91 L221.67 220.99 L226.62 221.06 L231.57 221.11 L236.52 221.15 L241.47 221.16 L246.42 221.15 L251.37 221.11 L256.32 221.03 L261.27 220.92 L266.22 220.78 L271.17 220.59 L276.12 220.36 L281.06 220.07 L286.01 219.74 L290.96 219.36 L295.91 218.91 L300.86 218.41 L305.81 217.85 L310.76 217.22 L315.71 216.52 L320.66 215.75 L325.61 214.91 L330.56 214 L335.51 213 L340.45 211.93 L345.4 210.77 L350.35 209.53 L355.3 208.2 L360.25 206.78 L365.2 205.27"/>
<path d="M73.2 222.3 L78.15 223.83 L83.1 225.16 L88.05 226.29 L93 227.23 L97.95 228.01 L102.89 228.63 L107.84 229.1 L112.79 229.43 L117.74 229.65 L122.69 229.76 L127.64 229.77 L132.59 229.69 L137.54 229.53 L142.49 229.31 L147.44 229.03 L152.39 228.71 L157.34 228.34 L162.28 227.95 L167.23 227.53 L172.18 227.1 L177.13 226.67 L182.08 226.24 L187.03 225.82 L191.98 225.42 L196.93 225.04 L201.88 224.69 L206.83 224.38 L211.78 224.11 L216.73 223.88 L221.67 223.7 L226.62 223.58 L231.57 223.52 L236.52 223.52 L241.47 223.59 L246.42 223.72 L251.37 223.93 L256.32 224.22 L261.27 224.58 L266.22 225.02 L271.17 225.55 L276.12 226.15 L281.06 226.84 L286.01 227.61 L290.96 228.46 L295.91 229.39 L300.86 230.41 L305.81 231.51 L310.76 232.68 L315.71 233.94 L320.66 235.27 L325.61 236.68 L330.56 238.16 L335.51 239.7 L340.45 241.31 L345.4 242.99 L350.35 244.72 L355.3 246.51 L360.25 248.34 L365.2 250.22"/>
<path d="M73.2 226 L78.15 227.66 L83.1 229.08 L88.05 230.28 L93 231.26 L97.95 232.05 L102.89 232.66 L107.84 233.11 L112.79 233.42 L117.74 233.6 L122.69 233.66 L127.64 233.62 L132.59 233.49 L137.54 233.28 L142.49 233.02 L147.44 232.7 L152.39 232.34 L157.34 231.94 L162.28 231.53 L167.23 231.11 L172.18 230.69 L177.13 230.27 L182.08 229.86 L187.03 229.48 L191.98 229.12 L196.93 228.8 L201.88 228.51 L206.83 228.27 L211.78 228.08 L216.73 227.94 L221.67 227.86 L226.62 227.83 L231.57 227.87 L236.52 227.96 L241.47 228.12 L246.42 228.34 L251.37 228.63 L256.32 228.98 L261.27 229.39 L266.22 229.86 L271.17 230.39 L276.12 230.97 L281.06 231.6 L286.01 232.28 L290.96 233 L295.91 233.77 L300.86 234.56 L305.81 235.38 L310.76 236.22 L315.71 237.07 L320.66 237.92 L325.61 238.77 L330.56 239.6 L335.51 240.42 L340.45 241.2 L345.4 241.93 L350.35 242.61 L355.3 243.23 L360.25 243.77 L365.2 244.21"/>
<path d="M73.2 210 L78.15 211.91 L83.1 213.84 L88.05 215.76 L93 217.69 L97.95 219.6 L102.89 221.49 L107.84 223.36 L112.79 225.2 L117.74 227 L122.69 228.75 L127.64 230.46 L132.59 232.12 L137.54 233.72 L142.49 235.25 L147.44 236.72 L152.39 238.12 L157.34 239.45 L162.28 240.7 L167.23 241.88 L172.18 242.97 L177.13 243.98 L182.08 244.91 L187.03 245.76 L191.98 246.51 L196.93 247.18 L201.88 247.77 L206.83 248.26 L211.78 248.67 L216.73 249 L221.67 249.24 L226.62 249.4 L231.57 249.48 L236.52 249.48 L241.47 249.4 L246.42 249.25 L251.37 249.03 L256.32 248.74 L261.27 248.39 L266.22 247.98 L271.17 247.52 L276.12 247.01 L281.06 246.45 L286.01 245.86 L290.96 245.23 L295.91 244.58 L300.86 243.9 L305.81 243.21 L310.76 242.52 L315.71 241.83 L320.66 241.15 L325.61 240.48 L330.56 239.84 L335.51 239.24 L340.45 238.68 L345.4 238.18 L350.35 237.74 L355.3 237.37 L360.25 237.09 L365.2 236.9"/>
<path d="M73.2 216 L78.15 217.4 L83.1 218.88 L88.05 220.44 L93 222.06 L97.95 223.71 L102.89 225.4 L107.84 227.11 L112.79 228.83 L117.74 230.53 L122.69 232.23 L127.64 233.89 L132.59 235.52 L137.54 237.11 L142.49 238.64 L147.44 240.12 L152.39 241.52 L157.34 242.85 L162.28 244.1 L167.23 245.26 L172.18 246.33 L177.13 247.31 L182.08 248.19 L187.03 248.97 L191.98 249.64 L196.93 250.2 L201.88 250.66 L206.83 251.01 L211.78 251.26 L216.73 251.39 L221.67 251.42 L226.62 251.34 L231.57 251.16 L236.52 250.88 L241.47 250.51 L246.42 250.04 L251.37 249.48 L256.32 248.84 L261.27 248.13 L266.22 247.34 L271.17 246.5 L276.12 245.59 L281.06 244.64 L286.01 243.65 L290.96 242.63 L295.91 241.59 L300.86 240.54 L305.81 239.5 L310.76 238.47 L315.71 237.46 L320.66 236.5 L325.61 235.59 L330.56 234.74 L335.51 233.98 L340.45 233.31 L345.4 232.76 L350.35 232.33 L355.3 232.06 L360.25 231.94 L365.2 232.01"/>
<path d="M73.2 199.28 L78.15 202.44 L83.1 205.56 L88.05 208.64 L93 211.65 L97.95 214.61 L102.89 217.49 L107.84 220.31 L112.79 223.04 L117.74 225.69 L122.69 228.25 L127.64 230.72 L132.59 233.09 L137.54 235.36 L142.49 237.53 L147.44 239.58 L152.39 241.52 L157.34 243.35 L162.28 245.06 L167.23 246.66 L172.18 248.13 L177.13 249.47 L182.08 250.69 L187.03 251.79 L191.98 252.76 L196.93 253.6 L201.88 254.31 L206.83 254.89 L211.78 255.35 L216.73 255.68 L221.67 255.88 L226.62 255.96 L231.57 255.91 L236.52 255.74 L241.47 255.45 L246.42 255.03 L251.37 254.51 L256.32 253.86 L261.27 253.11 L266.22 252.25 L271.17 251.29 L276.12 250.22 L281.06 249.06 L286.01 247.81 L290.96 246.47 L295.91 245.05 L300.86 243.55 L305.81 241.98 L310.76 240.34 L315.71 238.65 L320.66 236.9 L325.61 235.1 L330.56 233.26 L335.51 231.39 L340.45 229.5 L345.4 227.58 L350.35 225.66 L355.3 223.74 L360.25 221.82 L365.2 219.92"/>
<path d="M73.2 205.99 L78.15 208.67 L83.1 211.36 L88.05 214.06 L93 216.76 L97.95 219.45 L102.89 222.11 L107.84 224.73 L112.79 227.31 L117.74 229.83 L122.69 232.28 L127.64 234.66 L132.59 236.95 L137.54 239.15 L142.49 241.25 L147.44 243.24 L152.39 245.13 L157.34 246.89 L162.28 248.53 L167.23 250.03 L172.18 251.41 L177.13 252.64 L182.08 253.74 L187.03 254.69 L191.98 255.49 L196.93 256.14 L201.88 256.64 L206.83 256.99 L211.78 257.18 L216.73 257.22 L221.67 257.1 L226.62 256.84 L231.57 256.42 L236.52 255.85 L241.47 255.13 L246.42 254.27 L251.37 253.26 L256.32 252.12 L261.27 250.84 L266.22 249.44 L271.17 247.9 L276.12 246.25 L281.06 244.49 L286.01 242.62 L290.96 240.64 L295.91 238.58 L300.86 236.43 L305.81 234.21 L310.76 231.92 L315.71 229.57 L320.66 227.17 L325.61 224.73 L330.56 222.27 L335.51 219.8 L340.45 217.32 L345.4 214.84 L350.35 212.39 L355.3 209.98 L360.25 207.61 L365.2 205.31"/>
<path d="M73.2 212 L78.15 213.87 L83.1 215.68 L88.05 217.42 L93 219.09 L97.95 220.69 L102.89 222.23 L107.84 223.7 L112.79 225.1 L117.74 226.44 L122.69 227.71 L127.64 228.91 L132.59 230.05 L137.54 231.13 L142.49 232.13 L147.44 233.08 L152.39 233.95 L157.34 234.77 L162.28 235.51 L167.23 236.19 L172.18 236.81 L177.13 237.37 L182.08 237.85 L187.03 238.28 L191.98 238.64 L196.93 238.93 L201.88 239.17 L206.83 239.34 L211.78 239.44 L216.73 239.48 L221.67 239.46 L226.62 239.38 L231.57 239.23 L236.52 239.02 L241.47 238.75 L246.42 238.41 L251.37 238.02 L256.32 237.56 L261.27 237.03 L266.22 236.45 L271.17 235.8 L276.12 235.1 L281.06 234.33 L286.01 233.5 L290.96 232.61 L295.91 231.66 L300.86 230.64 L305.81 229.57 L310.76 228.44 L315.71 227.24 L320.66 225.99 L325.61 224.67 L330.56 223.3 L335.51 221.86 L340.45 220.37 L345.4 218.81 L350.35 217.2 L355.3 215.52 L360.25 213.79 L365.2 212"/>
<path d="M73.2 215 L78.15 216.91 L83.1 218.75 L88.05 220.51 L93 222.19 L97.95 223.8 L102.89 225.33 L107.84 226.78 L112.79 228.17 L117.74 229.48 L122.69 230.72 L127.64 231.88 L132.59 232.98 L137.54 234 L142.49 234.96 L147.44 235.85 L152.39 236.66 L157.34 237.41 L162.28 238.1 L167.23 238.71 L172.18 239.26 L177.13 239.74 L182.08 240.16 L187.03 240.52 L191.98 240.81 L196.93 241.04 L201.88 241.21 L206.83 241.31 L211.78 241.36 L216.73 241.34 L221.67 241.27 L226.62 241.13 L231.57 240.94 L236.52 240.69 L241.47 240.38 L246.42 240.02 L251.37 239.6 L256.32 239.12 L261.27 238.59 L266.22 238.01 L271.17 237.37 L276.12 236.68 L281.06 235.94 L286.01 235.15 L290.96 234.31 L295.91 233.41 L300.86 232.47 L305.81 231.48 L310.76 230.44 L315.71 229.35 L320.66 228.22 L325.61 227.04 L330.56 225.81 L335.51 224.54 L340.45 223.22 L345.4 221.86 L350.35 220.46 L355.3 219.02 L360.25 217.53 L365.2 216"/>
<path d="M73.2 216.5 L78.15 218.25 L83.1 219.95 L88.05 221.58 L93 223.15 L97.95 224.66 L102.89 226.11 L107.84 227.5 L112.79 228.82 L117.74 230.09 L122.69 231.29 L127.64 232.43 L132.59 233.51 L137.54 234.53 L142.49 235.49 L147.44 236.38 L152.39 237.21 L157.34 237.97 L162.28 238.68 L167.23 239.32 L172.18 239.89 L177.13 240.41 L182.08 240.86 L187.03 241.24 L191.98 241.56 L196.93 241.82 L201.88 242.01 L206.83 242.14 L211.78 242.2 L216.73 242.2 L221.67 242.13 L226.62 242 L231.57 241.8 L236.52 241.53 L241.47 241.2 L246.42 240.81 L251.37 240.34 L256.32 239.81 L261.27 239.22 L266.22 238.55 L271.17 237.82 L276.12 237.03 L281.06 236.16 L286.01 235.23 L290.96 234.23 L295.91 233.16 L300.86 232.03 L305.81 230.83 L310.76 229.55 L315.71 228.21 L320.66 226.8 L325.61 225.33 L330.56 223.78 L335.51 222.16 L340.45 220.48 L345.4 218.72 L350.35 216.9 L355.3 215 L360.25 213.04 L365.2 211"/>
<path d="M73.2 211 L78.15 212.99 L83.1 214.89 L88.05 216.71 L93 218.46 L97.95 220.12 L102.89 221.7 L107.84 223.21 L112.79 224.64 L117.74 226 L122.69 227.28 L127.64 228.49 L132.59 229.62 L137.54 230.68 L142.49 231.68 L147.44 232.6 L152.39 233.45 L157.34 234.23 L162.28 234.95 L167.23 235.6 L172.18 236.18 L177.13 236.7 L182.08 237.15 L187.03 237.54 L191.98 237.87 L196.93 238.14 L201.88 238.34 L206.83 238.49 L211.78 238.58 L216.73 238.61 L221.67 238.58 L226.62 238.5 L231.57 238.36 L236.52 238.17 L241.47 237.92 L246.42 237.62 L251.37 237.27 L256.32 236.87 L261.27 236.42 L266.22 235.92 L271.17 235.37 L276.12 234.78 L281.06 234.14 L286.01 233.45 L290.96 232.72 L295.91 231.94 L300.86 231.13 L305.81 230.27 L310.76 229.37 L315.71 228.42 L320.66 227.44 L325.61 226.43 L330.56 225.37 L335.51 224.28 L340.45 223.15 L345.4 221.99 L350.35 220.79 L355.3 219.56 L360.25 218.3 L365.2 217"/>
</g>
<path class="tc" stroke="#74e12c" d="M73.2 213.9 L76.9 215.2 L80.59 216.47 L84.29 217.72 L87.98 218.93 L91.68 220.11 L95.38 221.27 L99.07 222.39 L102.77 223.48 L106.47 224.54 L110.16 225.57 L113.86 226.57 L117.55 227.53 L121.25 228.46 L124.95 229.36 L128.64 230.22 L132.34 231.05 L136.04 231.85 L139.73 232.61 L143.43 233.34 L147.12 234.03 L150.82 234.69 L154.52 235.31 L158.21 235.9 L161.91 236.45 L165.61 236.97 L169.3 237.45 L173 237.9 L176.69 238.31 L180.39 238.69 L184.09 239.03 L187.78 239.33 L191.48 239.6 L195.17 239.83 L198.87 240.03 L202.57 240.19 L206.26 240.31 L209.96 240.4 L213.66 240.45 L217.35 240.47 L221.05 240.45 L224.74 240.39 L228.44 240.3 L232.14 240.17 L235.83 240.01 L239.53 239.81 L243.23 239.58 L246.92 239.32 L250.62 239.01 L254.31 238.68 L258.01 238.31 L261.71 237.9 L265.4 237.46 L269.1 236.99 L272.79 236.48 L276.49 235.94 L280.19 235.37 L283.88 234.76 L287.58 234.12 L291.28 233.45 L294.97 232.75 L298.67 232.02 L302.36 231.25 L306.06 230.46 L309.76 229.63 L313.45 228.78 L317.15 227.89 L320.85 226.98 L324.54 226.03 L328.24 225.06 L331.93 224.06 L335.63 223.04 L339.33 221.98 L343.02 220.9 L346.72 219.8 L350.42 218.67 L354.11 217.51 L357.81 216.33 L361.5 215.13 L365.2 213.9"/>
<path class="ax" d="M57.9 27 L57.9 302.4 L395 302.4"/>
<path class="tk" d="M73.2 303.5 L73.2 310  M102.4 303.5 L102.4 310  M131.6 303.5 L131.6 310  M160.8 303.5 L160.8 310  M190 303.5 L190 310  M219.2 303.5 L219.2 310  M248.4 303.5 L248.4 310  M277.6 303.5 L277.6 310  M306.8 303.5 L306.8 310  M336 303.5 L336 310  M365.2 303.5 L365.2 310  M49.8 264.2 L57 264.2 M49.8 177.9 L57 177.9 M49.8 91.6 L57 91.6"/>
<text class="k" text-anchor="middle" transform="translate(73.2,321.7) scale(1,1.04)">-10</text>
<text class="k" text-anchor="middle" transform="translate(102.4,321.7) scale(1,1.04)">-8</text>
<text class="k" text-anchor="middle" transform="translate(131.6,321.7) scale(1,1.04)">-6</text>
<text class="k" text-anchor="middle" transform="translate(160.8,321.7) scale(1,1.04)">-4</text>
<text class="k" text-anchor="middle" transform="translate(190,321.7) scale(1,1.04)">-2</text>
<text class="k" text-anchor="middle" transform="translate(219.2,321.7) scale(1,1.04)">0</text>
<text class="k" text-anchor="middle" transform="translate(248.4,321.7) scale(1,1.04)">2</text>
<text class="k" text-anchor="middle" transform="translate(277.6,321.7) scale(1,1.04)">4</text>
<text class="k" text-anchor="middle" transform="translate(306.8,321.7) scale(1,1.04)">6</text>
<text class="k" text-anchor="middle" transform="translate(336,321.7) scale(1,1.04)">8</text>
<text class="k" text-anchor="middle" transform="translate(365.2,321.7) scale(1,1.04)">10</text>
<text class="k" text-anchor="end" transform="translate(47.4,269.1) scale(1,1.04)">-0.1</text>
<text class="k" text-anchor="end" transform="translate(47.4,182.8) scale(1,1.04)">0.0</text>
<text class="k" text-anchor="end" transform="translate(47.4,96.5) scale(1,1.04)">0.1</text>
<text class="t" transform="translate(225.5,19) scale(1,1.08)">Custer 5</text>
<text class="a" transform="translate(227,341.9) scale(1,1.05)">Years to Diagnosis</text>
<text class="a" style="font-size:21.1px" transform="translate(18.5,164.9) rotate(-90) scale(1,1.05)">Z-score</text>
<text class="l" transform="translate(76.96,51.1) scale(1,1.01)">LDL-C(NMR)</text>
<text class="l" transform="translate(217.76,51.1) scale(1,1.01)">LDL-PL</text>
<text class="l" transform="translate(76.96,80.1) scale(1,1.01)">M-VLDL-C</text>
<text class="l" transform="translate(215.56,80.1) scale(1,1.01)">M-VLDL-CE</text>
<text class="l" transform="translate(72.95,107.7) scale(1,1.01)">IDL-P</text>
<text class="l" transform="translate(152.56,107.7) scale(1,1.01)">L-LDL-PL</text>
<text class="l" transform="translate(301.16,107.7) scale(1,1.01)">L-LDL-C</text>
<text class="l" transform="translate(75.56,140.1) scale(1,1.01)">Hb</text>
<text class="l" transform="translate(151.96,140.1) scale(1,1.01)">Hct</text>
<text class="l" transform="translate(207.56,140.1) scale(1,1.01)">LYMP-P</text>
<text class="l" transform="translate(300.35,140.1) scale(1,1.01)">IGF-1</text>
<text class="l" transform="translate(73.18,166.7) scale(1,1.01)">Cholesterol</text>
<text class="l" transform="translate(206.66,167.7) scale(1,1.01)">Urate</text>
<text class="l" transform="translate(72.56,270.7) scale(1,1.01)">LDL-C(Serum)</text>
<text class="l" transform="translate(250.81,271.9) scale(1,1.01)">Vitamin D</text>
</g>
</svg>
</body>
</html>
